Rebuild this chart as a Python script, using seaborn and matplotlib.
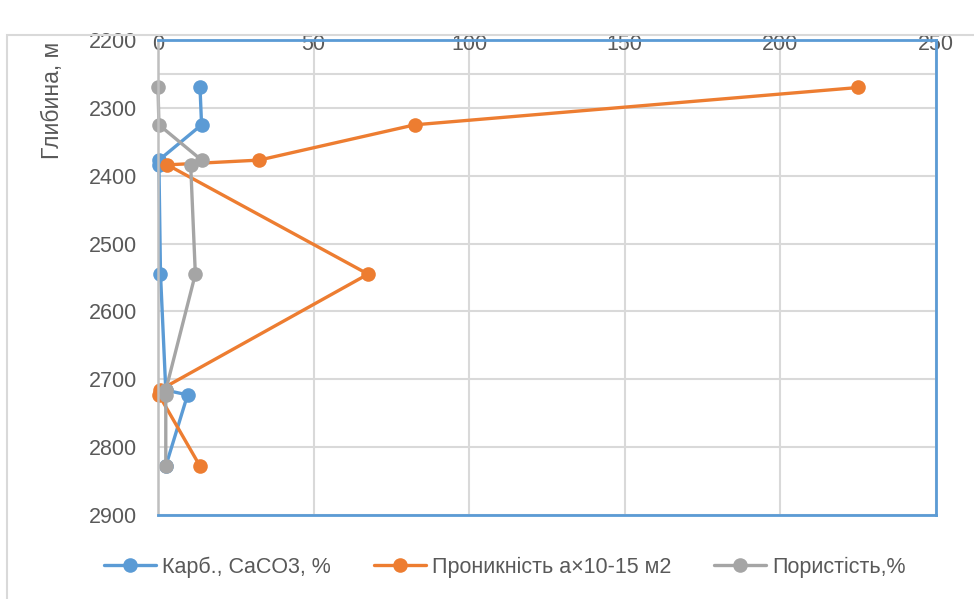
import matplotlib
matplotlib.use("Agg")
import matplotlib.pyplot as plt
import seaborn as sns
from matplotlib.lines import Line2D

# --- dane ---
depth = [2270, 2325, 2377, 2384, 2545, 2716, 2723, 2828]
carb = [13.5, 14, 0.3, 0.3, 0.8, 2.5, 9.5, 2.5]
perm = [225, 82.5, 32.5, 3, 67.5, 0.5, 0.3, 13.5]
poro = [0, 0.3, 14, 10.5, 12, 2.5, 2.5, 2.5]

series_names = ["Карб., CaCO3, %", "Проникність а×10-15 м2", "Пористість,%"]
colors = ["#5B9BD5", "#ED7D31", "#A5A5A5"]
x_ticks = [0, 50, 100, 150, 200, 250]
y_ticks = [2200, 2300, 2400, 2500, 2600, 2700, 2800, 2900]

sns.set_style("white")
plt.rcParams["font.family"] = ["Liberation Sans", "DejaVu Sans"]
txt = "#595959"
grid = "#D9D9D9"

fig = plt.figure(figsize=(9.74, 5.99), dpi=100)
ax = fig.add_axes([158 / 974, 1 - 515 / 599, 778 / 974, 475 / 599])

for vals, name, c in zip([carb, perm, poro], series_names, colors):
    sns.lineplot(x=vals, y=depth, ax=ax, sort=False, estimator=None, color=c,
                 linewidth=2.4, marker="o", markersize=10.5, markeredgewidth=0,
                 label=name, legend=False, clip_on=False)

ax.set_xlim(0, 250)
ax.set_ylim(2900, 2200)
ax.set_xticks(x_ticks)
ax.set_yticks(y_ticks)
ax.xaxis.tick_top()
ax.tick_params(axis="x", length=0, pad=-11, labelsize=15.5, labelcolor=txt)
ax.tick_params(axis="y", length=0, pad=15, labelsize=15.5, labelcolor=txt)
ax.grid(True, color=grid, linewidth=1.5)
ax.axhline(2250, color=grid, linewidth=1.5, zorder=0.5)
ax.set_axisbelow(True)
ax.set_xlabel("")
ax.set_ylabel("")

for side in ["top", "right", "bottom"]:
    ax.spines[side].set_color("#5B9BD5")
    ax.spines[side].set_linewidth(2)
ax.spines["left"].set_color("#BFBFBF")
ax.spines["left"].set_linewidth(1.8)

fig.text(52 / 974, 1 - 100 / 599, "Глибина, м", rotation=90, ha="center",
         va="center", fontsize=16.5, color=txt)

# ramka obszaru wykresu
fig.add_artist(plt.Rectangle((7 / 974, -0.05), 1.0, 1 - 35 / 599 + 0.05,
                             transform=fig.transFigure, fill=False,
                             edgecolor="#D9D9D9", linewidth=1.5))

handles = [Line2D([], [], color=c, linewidth=2.4, marker="o", markersize=10.5,
                  markeredgewidth=0) for c in colors]
fig.legend(handles, series_names, loc="center", ncol=3,
           bbox_to_anchor=(505 / 974, 1 - 567 / 599), frameon=False,
           fontsize=15.5, labelcolor=txt, handlelength=2.4, handletextpad=0.3,
           columnspacing=2.0)

fig.savefig("out.png", dpi=100)
